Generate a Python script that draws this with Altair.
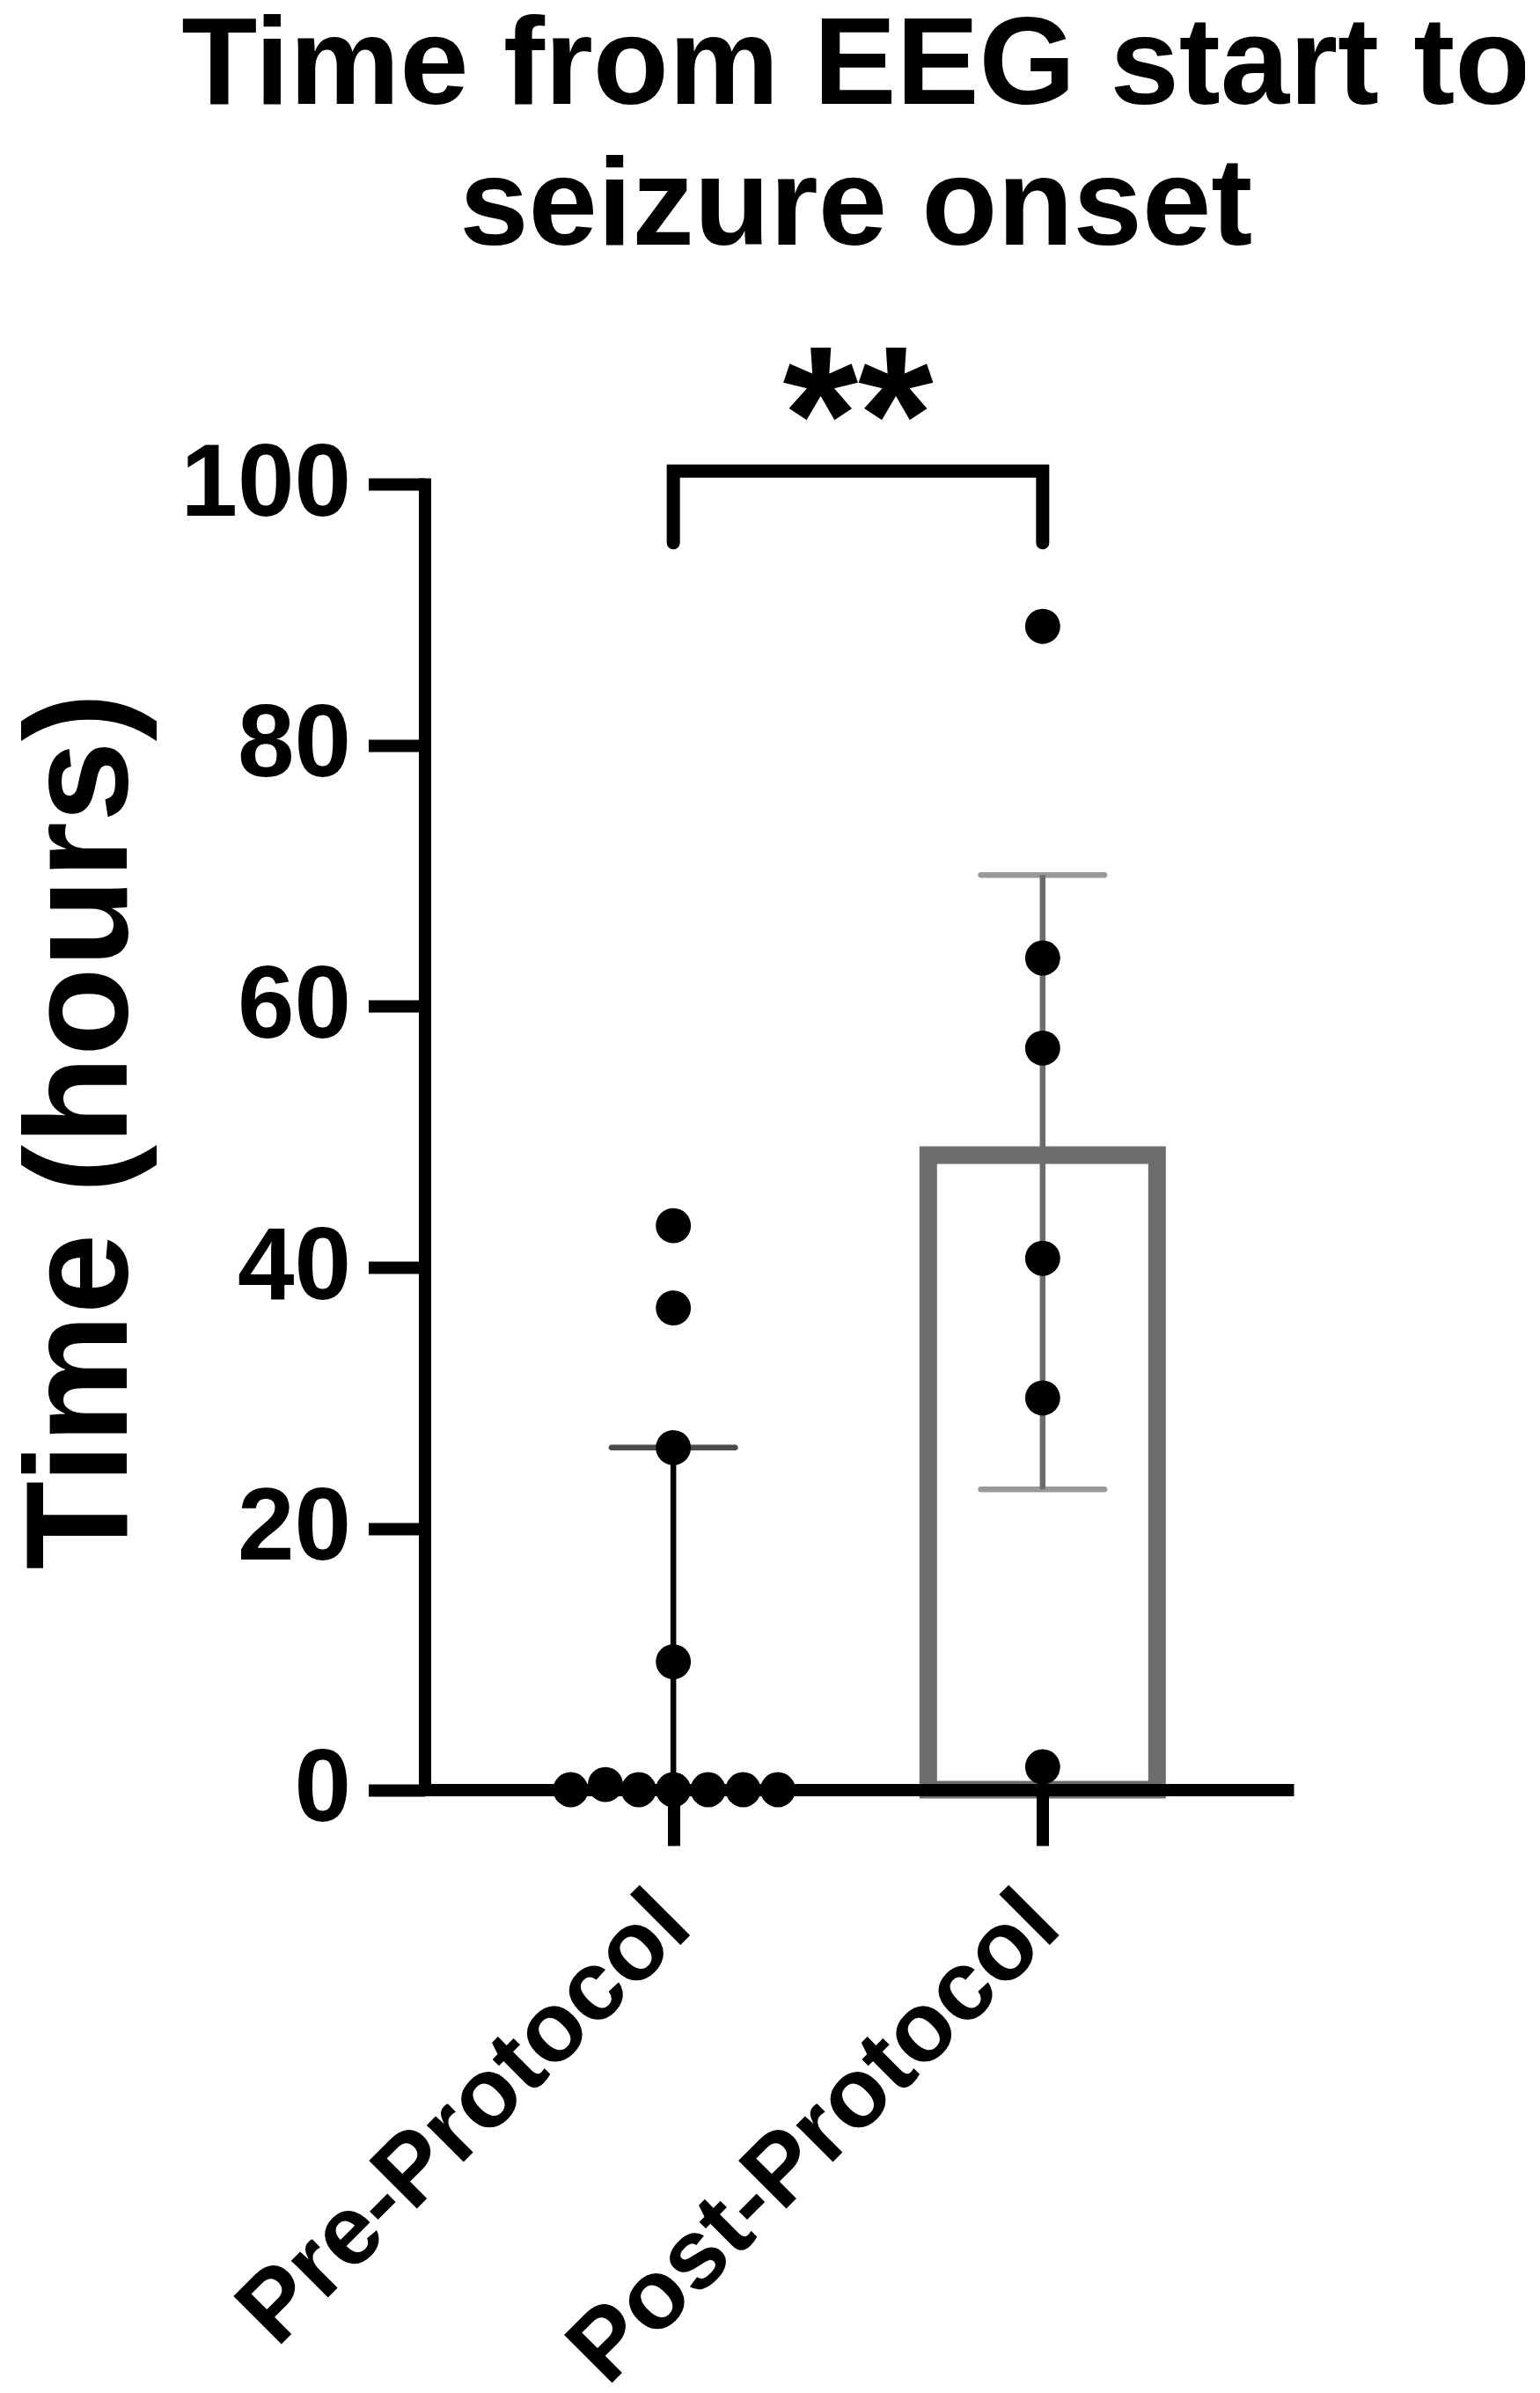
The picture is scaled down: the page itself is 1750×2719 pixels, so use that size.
import altair as alt
import pandas as pd

# ---- data ----
categories = ["Pre-Protocol", "Post-Protocol"]
cat_pos = [1, 2]

pre_values = [43.2, 36.9, 26.2, 9.8, 0.0, 0.4, 0.0, 0.0, 0.0, 0.0, 0.0]
pre_jitter = [0, 0, 0, 0, -0.278, -0.184, -0.094, 0, 0.094, 0.189, 0.283]
post_values = [89.1, 63.7, 56.8, 40.7, 30.0, 1.75]
post_jitter = [0, 0, 0, 0, 0, 0]

medians = [0.0, 48.6]
q1 = [0.0, 23.0]
q3 = [26.2, 70.05]

bracket_low = 95.5
bracket_high = 101.0
sig_label = "**"
sig_y = 100.2

title_lines = ["Time from EEG start to", "seizure onset"]
y_title = "Time (hours)"
y_ticks = [0, 20, 40, 60, 80, 100]

# ---- tables ----
points = pd.DataFrame(
    {"group": [categories[0]] * len(pre_values) + [categories[1]] * len(post_values),
     "x": [cat_pos[0] + d for d in pre_jitter] + [cat_pos[1] + d for d in post_jitter],
     "value": pre_values + post_values}
)
summary = pd.DataFrame({"group": categories, "x": cat_pos, "median": medians,
                        "q1": q1, "q3": q3})
caps = pd.DataFrame({"group": categories * 2, "x": cat_pos * 2, "y": q3 + q1})
caps = caps[caps["y"] > 0]
bracket = pd.DataFrame({"x": [cat_pos[0], cat_pos[0], cat_pos[1], cat_pos[1]],
                        "y": [bracket_low, bracket_high, bracket_high, bracket_low],
                        "o": [0, 1, 2, 3]})
annot = pd.DataFrame({"x": [(cat_pos[0] + cat_pos[1]) / 2], "y": [sig_y], "t": [sig_label]})

FONT = "Liberation Sans"
GRAY = "#6d6d6d"
label_expr = "datum.value == 1 ? '%s' : '%s'" % (categories[0], categories[1])

xscale = alt.Scale(domain=[0.3384, 2.6509], nice=False, zero=False)
yscale = alt.Scale(domain=[0, 100], nice=False)

xaxis = alt.Axis(values=cat_pos, labelExpr=label_expr, title=None, labelAngle=-45,
                 labelAlign="right", labelBaseline="middle", labelFontSize=112,
                 labelFont=FONT, labelFontWeight="bold", labelColor="black",
                 labelPadding=72, labelLimit=2000, tickSize=63.5, tickWidth=14,
                 tickColor="black", domainWidth=14, domainColor="black",
                 domainCap="square", grid=False, labelOverlap=False, labelBound=False,
                 labelFlush=False, zindex=1)
yaxis = alt.Axis(values=y_ticks, title=y_title, titleFontSize=165, titleFont=FONT,
                 titleFontWeight="bold", titleColor="black", titleAngle=270,
                 titleAlign="center", titleBaseline="alphabetic", titleX=-339.5,
                 titleY=735, titleLimit=3000, labelFontSize=116, labelFont=FONT,
                 labelFontWeight="bold", labelColor="black", labelPadding=20,
                 labelLimit=2000, tickSize=64, tickWidth=14, tickColor="black",
                 domainWidth=14, domainColor="black", domainCap="square", grid=False,
                 zindex=1)

color_scale = alt.Scale(domain=categories, range=["#000000", GRAY])

bars = alt.Chart(summary).transform_filter("datum.median > 0").mark_bar(
    orient="vertical", size=260, fill="white", stroke=GRAY, strokeWidth=20
).encode(
    x=alt.X("x:Q", scale=xscale, axis=xaxis),
    y=alt.Y("median:Q", scale=yscale, axis=yaxis),
)

err = alt.Chart(summary).mark_rule(strokeWidth=6.5).encode(
    x=alt.X("x:Q", scale=xscale),
    y=alt.Y("q1:Q", scale=yscale),
    y2="q3:Q",
    color=alt.Color("group:N", scale=color_scale, legend=None),
)

capmarks = alt.Chart(caps).mark_tick(orient="horizontal", size=147, thickness=6.5,
                                     cornerRadius=3).encode(
    x=alt.X("x:Q", scale=xscale),
    y=alt.Y("y:Q", scale=yscale),
    color=alt.Color("group:N", scale=color_scale, legend=None),
)

dots = alt.Chart(points).mark_point(filled=True, shape="circle", size=1590,
                                    color="black", opacity=1).encode(
    x=alt.X("x:Q", scale=xscale),
    y=alt.Y("value:Q", scale=yscale),
)

brk = alt.Chart(bracket).mark_line(color="black", strokeWidth=15, strokeCap="round",
                                   strokeJoin="miter", clip=False).encode(
    x=alt.X("x:Q", scale=xscale),
    y=alt.Y("y:Q", scale=yscale),
    order="o:Q",
)

stars = alt.Chart(annot).mark_text(font=FONT, fontWeight="bold", fontSize=220,
                                   baseline="alphabetic", align="center",
                                   color="black", clip=False).encode(
    x=alt.X("x:Q", scale=xscale),
    y=alt.Y("y:Q", scale=yscale),
    text="t:N",
)

chart = alt.layer(bars, err, capmarks, dots, brk, stars).properties(
    width=980.5,
    height=1483.5,
    padding={"left": 474.5, "top": 542, "right": 270, "bottom": 680},
    autosize="none",
    background="white",
    title=alt.TitleParams(text=title_lines, fontSize=141, font=FONT, fontWeight="bold",
                          lineHeight=160, anchor="middle", baseline="bottom",
                          offset=-78, color="black", limit=3000),
).configure_view(stroke=None)

chart.save("out.html", embed_options={"renderer": "svg", "actions": False})
